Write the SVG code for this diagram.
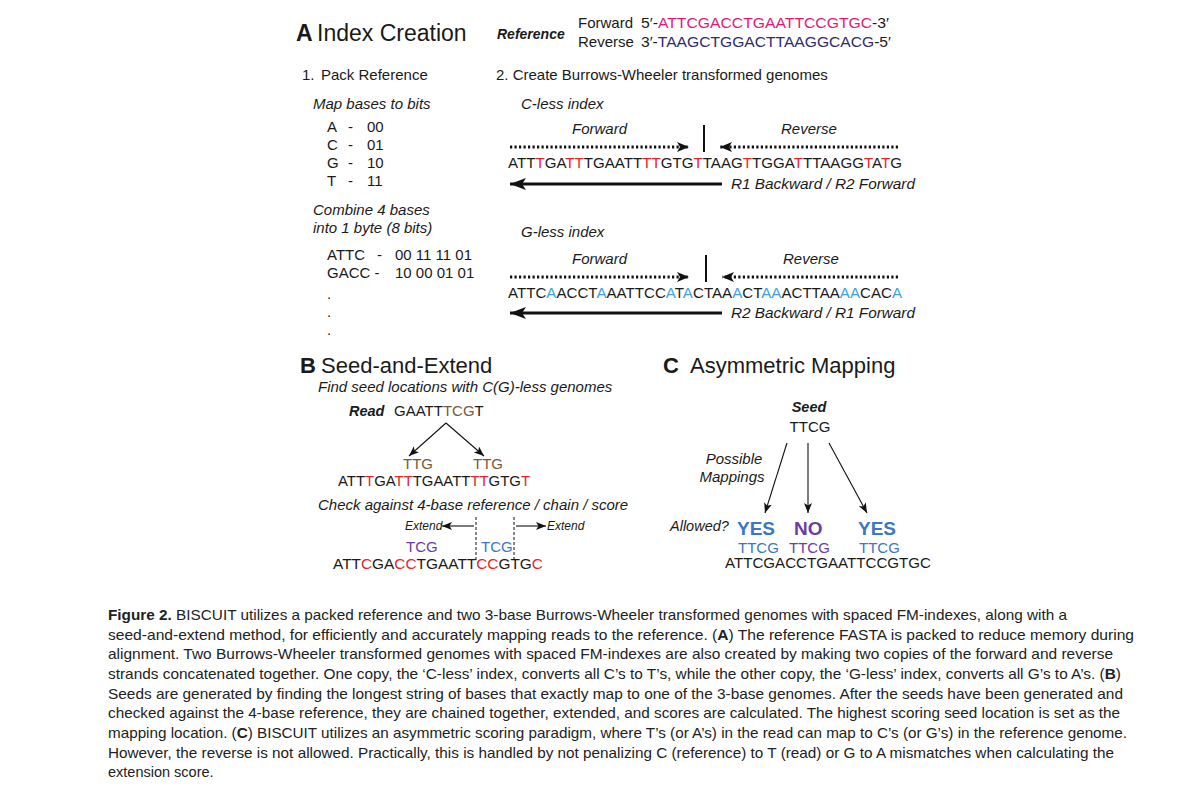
<svg xmlns="http://www.w3.org/2000/svg" width="1200" height="806" viewBox="0 0 1200 806">
<defs>
<style>
text{font-family:"Liberation Sans",Arial,sans-serif;fill:#1a1a1a}
.it{font-style:italic}
.b{font-weight:bold}
.t14{font-size:14.5px}
.t15{font-size:15px}
.ttl{font-size:22px}
.r{fill:#e2262b}
.lb{fill:#3ba3de}
.pk{fill:#e2197b}
.nv{fill:#2f2c6c}
.pu{fill:#6a3ea0}
.bl{fill:#3a78c3}
.br{fill:#7a5a38}
.cap{font-size:14.5px;fill:#222}
.dot{stroke:#111;stroke-width:3;stroke-dasharray:2.2 2.3;fill:none}
.sol{stroke:#111;stroke-width:3;fill:none}
.thin{stroke:#111;stroke-width:1.1;fill:none}
.vd{stroke:#111;stroke-width:1;stroke-dasharray:3 2;fill:none}
</style>
<marker id="ah" markerUnits="userSpaceOnUse" markerWidth="14" markerHeight="12" refX="12" refY="5" orient="auto">
<path d="M0,0 L12,5 L0,10 L3,5 z" fill="#111"/>
</marker>
<marker id="ahb" markerUnits="userSpaceOnUse" markerWidth="18" markerHeight="14" refX="16" refY="6" orient="auto">
<path d="M0,0 L16,6 L0,12 L4,6 z" fill="#111"/>
</marker>
<marker id="ahs" markerUnits="userSpaceOnUse" markerWidth="11" markerHeight="9" refX="10" refY="4" orient="auto">
<path d="M0,0 L10,4 L0,8 L2.5,4 z" fill="#111"/>
</marker>
</defs>
<rect width="1200" height="806" fill="#fff"/>

<g id="panelA-title">
<text x="296" y="41" style="font-size:23px" class="b">A</text>
<text x="317" y="41" style="font-size:23px">Index Creation</text>
<text x="497" y="39" class="b it" style="font-size:14px">Reference</text>
<text x="578" y="28" class="t15">Forward</text>
<text x="578" y="47" class="t15">Reverse</text>
<text x="641" y="28" class="t15" textLength="248" lengthAdjust="spacingAndGlyphs">5′-<tspan class="pk">ATTCGACCTGAATTCCGTGC</tspan>-3′</text>
<text x="641" y="47" class="t15" textLength="250" lengthAdjust="spacingAndGlyphs">3′-<tspan class="nv">TAAGCTGGACTTAAGGCACG</tspan>-5′</text>
</g>

<g id="pack-reference">
<text x="302" y="80" class="t15">1.</text>
<text x="321" y="80" class="t15">Pack Reference</text>
<text x="313" y="109" class="t15 it">Map bases to bits</text>
<text x="327" y="132" class="t15">A</text><text x="348" y="132" class="t15">-</text><text x="367" y="132" class="t15">00</text>
<text x="327" y="150" class="t15">C</text><text x="348" y="150" class="t15">-</text><text x="367" y="150" class="t15">01</text>
<text x="327" y="168" class="t15">G</text><text x="348" y="168" class="t15">-</text><text x="367" y="168" class="t15">10</text>
<text x="327" y="186" class="t15">T</text><text x="348" y="186" class="t15">-</text><text x="367" y="186" class="t15">11</text>
<text x="313" y="215" class="t15 it">Combine 4 bases</text>
<text x="313" y="233" class="t15 it">into 1 byte (8 bits)</text>
<text x="327" y="260" class="t15">ATTC</text><text x="377" y="260" class="t15">-</text><text x="395" y="260" class="t15">00 11 11 01</text>
<text x="327" y="278" class="t15">GACC -</text><text x="395" y="278" class="t15">10 00 01 01</text>
<text x="327" y="299" class="t15">.</text>
<text x="327" y="317" class="t15">.</text>
<text x="327" y="335" class="t15">.</text>
</g>

<g id="bwt-title">
<text x="496" y="80" class="t15">2. Create Burrows-Wheeler transformed genomes</text>
</g>

<g id="c-less-index">
<text x="521" y="109" class="t15 it">C-less index</text>
<text x="572" y="134" class="t15 it">Forward</text>
<text x="781" y="134" class="t15 it">Reverse</text>
<text x="508" y="168" class="t15" textLength="394" lengthAdjust="spacingAndGlyphs">ATT<tspan class="r">T</tspan>GA<tspan class="r">TT</tspan>TGAATT<tspan class="r">TT</tspan>GTG<tspan class="r">T</tspan>TAAG<tspan class="r">T</tspan>TGGA<tspan class="r">T</tspan>TTAAGG<tspan class="r">T</tspan>A<tspan class="r">T</tspan>G</text>
<text x="731" y="189" class="t15 it" textLength="184" lengthAdjust="spacingAndGlyphs">R1 Backward / R2 Forward</text>
</g>

<g id="g-less-index">
<text x="521" y="237" class="t15 it">G-less index</text>
<text x="572" y="264" class="t15 it">Forward</text>
<text x="783" y="264" class="t15 it">Reverse</text>
<text x="508" y="298" class="t15" textLength="394" lengthAdjust="spacingAndGlyphs">ATTC<tspan class="lb">A</tspan>ACCT<tspan class="lb">A</tspan>AATTCC<tspan class="lb">A</tspan>T<tspan class="lb">A</tspan>CTAA<tspan class="lb">A</tspan>CT<tspan class="lb">AA</tspan>ACTTAA<tspan class="lb">AA</tspan>CAC<tspan class="lb">A</tspan></text>
<text x="731" y="318" class="t15 it" textLength="184" lengthAdjust="spacingAndGlyphs">R2 Backward / R1 Forward</text>
</g>

<g id="panelB">
<text x="300" y="373" class="ttl b">B</text>
<text x="321" y="373" class="ttl">Seed-and-Extend</text>
<text x="318" y="392" class="t15 it">Find seed locations with C(G)-less genomes</text>
<text x="349" y="416" class="t14 b it">Read</text>
<text x="394" y="416" class="t15">GAATT<tspan class="br">TCG</tspan>T</text>
<text x="403" y="469" class="t15 br">TTG</text>
<text x="473" y="469" class="t15 br">TTG</text>
<text x="338" y="486" class="t15" textLength="192" lengthAdjust="spacingAndGlyphs">ATT<tspan class="r">T</tspan>GA<tspan class="r">TT</tspan>TGAATT<tspan class="r">TT</tspan>GTG<tspan class="r">T</tspan></text>
<text x="318" y="510" class="t15 it">Check against 4-base reference / chain / score</text>
<text x="405" y="530" class="it" style="font-size:12px">Extend</text>
<text x="547" y="530" class="it" style="font-size:12px">Extend</text>
<text x="406" y="552" class="t15 pu">TCG</text>
<text x="481" y="552" class="t15 bl">TCG</text>
<text x="333" y="569" class="t15" textLength="210" lengthAdjust="spacingAndGlyphs">ATT<tspan class="r">C</tspan>GA<tspan class="r">CC</tspan>TGAATT<tspan class="r">CC</tspan>GTG<tspan class="r">C</tspan></text>
</g>

<g id="panelC">
<text x="663" y="373" class="ttl b">C</text>
<text x="690" y="373" class="ttl">Asymmetric Mapping</text>
<text x="809" y="412" class="t14 b it" text-anchor="middle">Seed</text>
<text x="810" y="432" class="t15" text-anchor="middle">TTCG</text>
<text x="734" y="464" class="t15 it" text-anchor="middle">Possible</text>
<text x="732" y="482" class="t15 it" text-anchor="middle">Mappings</text>
<text x="670" y="531" class="t14 it">Allowed?</text>
<text x="737" y="535" class="b bl" style="font-size:19px">YES</text>
<text x="794" y="535" class="b pu" style="font-size:19px">NO</text>
<text x="858" y="535" class="b bl" style="font-size:19px">YES</text>
<text x="738" y="553" class="t15 bl">TTCG</text>
<text x="789" y="553" class="t15 pu">TTCG</text>
<text x="859" y="553" class="t15 bl">TTCG</text>
<text x="725" y="568" class="t15" textLength="206" lengthAdjust="spacingAndGlyphs">ATTCGACCTGAATTCCGTGC</text>
</g>

<g id="connectors">
<line x1="510" y1="147" x2="689" y2="147" class="dot" marker-end="url(#ah)"/>
<line x1="704" y1="125" x2="704" y2="152" stroke="#111" stroke-width="2"/>
<line x1="898" y1="147" x2="720" y2="147" class="dot" marker-end="url(#ah)"/>
<line x1="722" y1="184" x2="510" y2="184" class="sol" marker-end="url(#ahb)"/>
<line x1="510" y1="277" x2="689" y2="277" class="dot" marker-end="url(#ah)"/>
<line x1="706" y1="255" x2="706" y2="282" stroke="#111" stroke-width="2"/>
<line x1="898" y1="277" x2="722" y2="277" class="dot" marker-end="url(#ah)"/>
<line x1="722" y1="313" x2="510" y2="313" class="sol" marker-end="url(#ahb)"/>
<line x1="446" y1="423" x2="409" y2="456" class="thin" marker-end="url(#ahs)"/>
<line x1="446" y1="423" x2="484" y2="456" class="thin" marker-end="url(#ahs)"/>
<line x1="476" y1="517" x2="476" y2="562" class="vd"/>
<line x1="514" y1="517" x2="514" y2="562" class="vd"/>
<line x1="474" y1="526" x2="442" y2="526" class="thin" marker-end="url(#ahs)"/>
<line x1="516" y1="526" x2="546" y2="526" class="thin" marker-end="url(#ahs)"/>
<line x1="787" y1="443" x2="765" y2="513" class="thin" marker-end="url(#ahs)"/>
<line x1="808" y1="443" x2="808" y2="513" class="thin" marker-end="url(#ahs)"/>
<line x1="829" y1="443" x2="867" y2="513" class="thin" marker-end="url(#ahs)"/>
</g>

<g id="caption">
<text x="108" y="620" class="cap" textLength="959" lengthAdjust="spacingAndGlyphs"><tspan class="b">Figure 2.</tspan> BISCUIT utilizes a packed reference and two 3-base Burrows-Wheeler transformed genomes with spaced FM-indexes, along with a</text>
<text x="108" y="640" class="cap" textLength="1026" lengthAdjust="spacingAndGlyphs">seed-and-extend method, for efficiently and accurately mapping reads to the reference. (<tspan class="b">A</tspan>) The reference FASTA is packed to reduce memory during</text>
<text x="108" y="659" class="cap" textLength="1005" lengthAdjust="spacingAndGlyphs">alignment. Two Burrows-Wheeler transformed genomes with spaced FM-indexes are also created by making two copies of the forward and reverse</text>
<text x="108" y="679" class="cap" textLength="1013" lengthAdjust="spacingAndGlyphs">strands concatenated together. One copy, the ‘C-less’ index, converts all C’s to T’s, while the other copy, the ‘G-less’ index, converts all G’s to A’s. (<tspan class="b">B</tspan>)</text>
<text x="108" y="699" class="cap" textLength="1015" lengthAdjust="spacingAndGlyphs">Seeds are generated by finding the longest string of bases that exactly map to one of the 3-base genomes. After the seeds have been generated and</text>
<text x="108" y="718" class="cap" textLength="1012" lengthAdjust="spacingAndGlyphs">checked against the 4-base reference, they are chained together, extended, and scores are calculated. The highest scoring seed location is set as the</text>
<text x="108" y="738" class="cap" textLength="1019" lengthAdjust="spacingAndGlyphs">mapping location. (<tspan class="b">C</tspan>) BISCUIT utilizes an asymmetric scoring paradigm, where T’s (or A’s) in the read can map to C’s (or G’s) in the reference genome.</text>
<text x="108" y="758" class="cap" textLength="1006" lengthAdjust="spacingAndGlyphs">However, the reverse is not allowed. Practically, this is handled by not penalizing C (reference) to T (read) or G to A mismatches when calculating the</text>
<text x="108" y="777" class="cap">extension score.</text>
</g>
</svg>
